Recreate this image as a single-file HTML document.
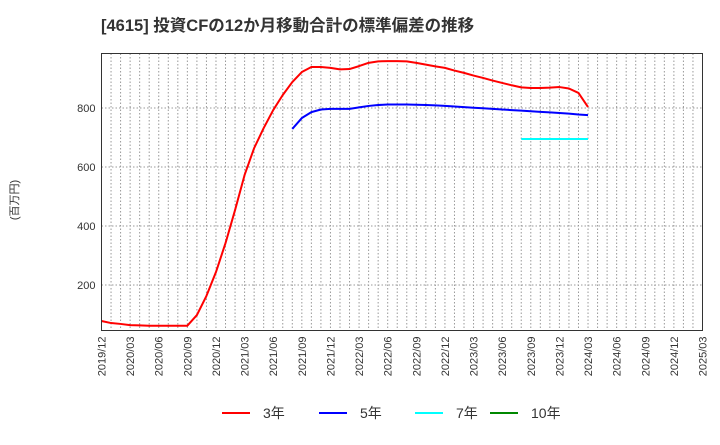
<!DOCTYPE html>
<html><head><meta charset="utf-8"><style>
body{margin:0;background:#fff;font-family:"Liberation Sans","Noto Sans CJK JP",sans-serif}
</style></head><body>
<svg width="720" height="440" xmlns="http://www.w3.org/2000/svg" style="font-family:'Liberation Sans','Noto Sans CJK JP',sans-serif">
<text x="101" y="31" font-size="16.5" font-weight="bold" fill="#333">[4615]  投資CFの12か月移動合計の標準偏差の推移</text>
<text transform="translate(18,200) rotate(-90)" font-size="11" fill="#333" text-anchor="middle">(百万円)</text>
<g id="grid"></g><g id="axes"></g><g id="series"></g>
<rect x="101.5" y="53.5" width="601" height="277" fill="none" stroke="#333"/>
<g id="legend"></g>
</svg>
<script>
const startYear=2019, startMonth=12, nMonths=63;
const yTicks=[200,400,600,800];
const s3=[78,71,68,64,63,62,62,62,62,62,98,163,244,342,454,573,664,732,793,844,888,922,939,939,936,931,932,942,953,958,959,959,958,953,947,941,936,927,919,910,902,893,885,877,870,868,868,869,871,866,851,803];
const s5Start=20;
const s5=[729,766,786,795,797,797,797,802,807,810,812,812,812,811,810,809,807,805,803,801,799,797,795,793,791,789,787,785,783,781,778,776];
const s7Start=44;
const s7=[695,695,695,695,695,695,695,695];
const s10=[];
const legendLabels=["3年","5年","7年","10年"];
const colors=["#f00","#00f","#0ff","#080"];
const NS="http://www.w3.org/2000/svg";
const L=101.5,R=702.5,T=53.5,B=330.5;
const X=i=>L+(R-L)*i/nMonths;
const Y=v=>344-v*0.295;
function mk(t,a,p){const e=document.createElementNS(NS,t);for(const k in a)e.setAttribute(k,a[k]);p.appendChild(e);return e;}
const grid=document.getElementById('grid'),axes=document.getElementById('axes'),ser=document.getElementById('series'),leg=document.getElementById('legend');
for(let i=1;i<nMonths;i++){
 const l=mk('line',{x1:X(i),x2:X(i),y1:T,y2:B,stroke:'#999','stroke-dasharray':'1.5,2','stroke-width':1},grid);
 
 
}
yTicks.forEach(v=>{
 const l=mk('line',{x1:L,x2:R,y1:Y(v),y2:Y(v),stroke:'#999','stroke-dasharray':'1.5,2'},grid);
 
 
 const t=mk('text',{x:L-6,y:Y(v)+4,'font-size':11,fill:'#333','text-anchor':'end'},axes);
 t.textContent=v;
 
 
});
for(let i=0;i<=nMonths;i+=3){
 let m=startMonth+i-1,y=startYear+Math.floor(m/12);m=m%12+1;
 const lab=y+'/'+String(m).padStart(2,'0');
 const t=mk('text',{transform:`translate(${X(i)+4},${B+6}) rotate(-90)`,'font-size':11,fill:'#333','text-anchor':'end'},axes);
 t.textContent=lab;
 
 
}
function line(arr,start,col,name){
 if(!arr.length)return;
 const p=mk('polyline',{points:arr.map((v,i)=>X(start+i)+','+Y(v)).join(' '),fill:'none',stroke:col,'stroke-width':2,'stroke-linejoin':'round'},ser);
 
 
}
line(s3,0,colors[0],'series-3y');
line(s5,s5Start,colors[1],'series-5y');
line(s7,s7Start,colors[2],'series-7y');
line(s10,0,colors[3],'series-10y');
const lx=[222,319,415,490];
legendLabels.forEach((lb,i)=>{
 const g=mk('g',{},leg);
 
 
 mk('line',{x1:lx[i],x2:lx[i]+28,y1:413,y2:413,stroke:colors[i],'stroke-width':2},g);
 const t=mk('text',{x:lx[i]+41,y:418,'font-size':14,fill:'#333'},g);
 t.textContent=lb;
});
</script>
</body></html>
